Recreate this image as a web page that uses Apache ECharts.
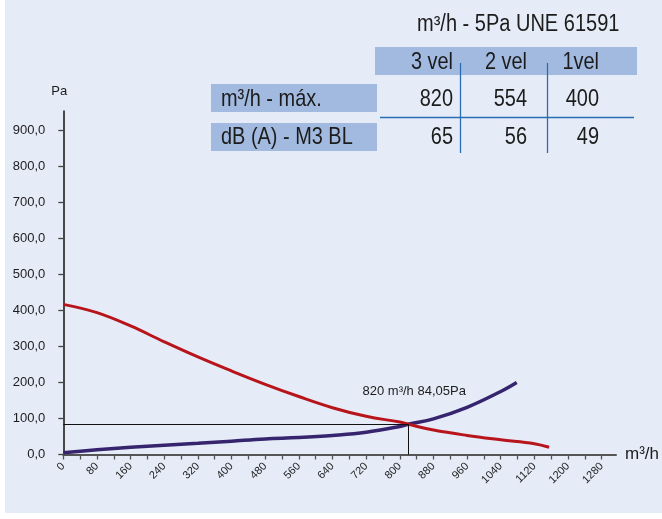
<!DOCTYPE html>
<html>
<head>
<meta charset="utf-8">
<script src="https://cdn.jsdelivr.net/npm/echarts@6/dist/echarts.min.js"></script>
<style>
  html, body { margin: 0; padding: 0; background: #ffffff; }
  #chart { width: 662px; height: 519px; }
</style>
</head>
<body>
<div id="chart"></div>
<script>
// Fan curve (pressure available) in m³/h vs Pa
const fanFlow     = [0,   80,  160, 240, 320, 400, 480, 560, 640, 720, 800, 820,   880, 960, 1040, 1120, 1155];
const fanPressure = [417, 394, 357, 313, 271, 232, 195, 161, 130, 106, 90,  84.05, 68,  53,  41,   30,   20];

// System (installation) curve
const sysFlow     = [0, 80, 160, 240, 320, 400, 480, 560, 640, 720, 800, 820,   880, 960, 1040, 1078];
const sysPressure = [5, 13, 20,  26,  31,  37,  43,  47,  53,  62,  78,  84.05, 99,  131, 175,  200];

// Working point
const workFlow = 820;
const workPressure = 84.05;

// Axis ticks and labels
const xLabelValues = [0, 80, 160, 240, 320, 400, 480, 560, 640, 720, 800, 880, 960, 1040, 1120, 1200, 1280];
const yLabelValues = [0, 100, 200, 300, 400, 500, 600, 700, 800, 900];

// Speed table
const tableTitle = 'm³/h - 5Pa UNE 61591';
const speeds = ['3 vel', '2 vel', '1vel'];
const rowNames = ['m³/h - máx.', 'dB (A) - M3 BL'];
const maxFlow = [820, 554, 400];
const noise = [65, 56, 49];

const FONT = "'Liberation Sans', Arial, sans-serif";
const INK = '#1c1c1c';
const BAND = '#a2badf';
const RULE = '#2a6db5';
const NARROW = 0.83; // horizontal squeeze for the condensed table lettering

const xTickValues = [];
for (let v = 0; v <= 1280; v += 40) xTickValues.push(v);

const pairs = (xs, ys) => xs.map((x, i) => [x, ys[i]]);

// condensed text helper for the table block
function narrowText(x, y, text, size, align, squeeze) {
  return {
    type: 'text', x: x, y: y, scaleX: squeeze || NARROW, scaleY: 1,
    style: { x: 0, y: 0, text: text, font: size + 'px ' + FONT, fill: INK, align: align || 'left', verticalAlign: 'middle' }
  };
}

// Table graphics built from the table arrays
const colRight = [453, 527, 599];
const rowMid = [99, 137];
const tableEls = [];
tableEls.push({ type: 'rect', shape: { x: 375, y: 47, width: 262, height: 28 }, style: { fill: BAND } });
tableEls.push({ type: 'rect', shape: { x: 211, y: 84, width: 166, height: 28 }, style: { fill: BAND } });
tableEls.push({ type: 'rect', shape: { x: 211, y: 123, width: 166, height: 28 }, style: { fill: BAND } });
tableEls.push(narrowText(417, 25, tableTitle, 23, 'left', 0.87));
speeds.forEach((s, i) => tableEls.push(narrowText(colRight[i], 62, s, 24, 'right')));
rowNames.forEach((s, i) => tableEls.push(narrowText(221, rowMid[i], s, 24, 'left')));
[maxFlow, noise].forEach((row, r) => row.forEach((v, i) => tableEls.push(narrowText(colRight[i], rowMid[r], String(v), 24, 'right'))));
tableEls.push({ type: 'line', shape: { x1: 460.5, y1: 63, x2: 460.5, y2: 153 }, style: { stroke: RULE, lineWidth: 1.3 } });
tableEls.push({ type: 'line', shape: { x1: 547.5, y1: 63, x2: 547.5, y2: 153 }, style: { stroke: RULE, lineWidth: 1.3 } });
tableEls.push({ type: 'line', shape: { x1: 380, y1: 117.5, x2: 634, y2: 117.5 }, style: { stroke: RULE, lineWidth: 1.3 } });

const chart = echarts.init(document.getElementById('chart'), null, { renderer: 'canvas' });

chart.setOption({
  backgroundColor: '#e5ecf7',
  animation: false,
  textStyle: { fontFamily: FONT },
  grid: { left: 63.3, right: 43, top: 111, bottom: 64.5, containLabel: false },
  graphic: [
    { type: 'rect', shape: { x: 0, y: 0, width: 5, height: 519 }, style: { fill: '#ffffff' } },
    { type: 'rect', shape: { x: 0, y: 513, width: 662, height: 6 }, style: { fill: '#ffffff' } },
    { type: 'group', children: tableEls }
  ],
  xAxis: {
    type: 'value',
    min: 0,
    max: 1314,
    name: 'm³/h',
    nameLocation: 'end',
    nameGap: 9,
    nameTextStyle: { fontSize: 17, color: INK, fontFamily: FONT, verticalAlign: 'middle' },
    axisLine: { lineStyle: { color: '#555555', width: 2 } },
    axisTick: { customValues: xTickValues, length: 5, lineStyle: { color: '#555555', width: 1.3 } },
    axisLabel: {
      customValues: xLabelValues, rotate: 45, fontSize: 11, color: INK, margin: 10, fontFamily: FONT,
      formatter: v => String(v)
    },
    splitLine: { show: false }
  },
  yAxis: {
    type: 'value',
    min: 0,
    max: 954,
    name: 'Pa',
    nameLocation: 'end',
    nameGap: 13,
    nameTextStyle: { fontSize: 13, color: INK, fontFamily: FONT, padding: [0, 8, 0, 0] },
    axisLine: { lineStyle: { color: '#111111', width: 1.5 } },
    axisTick: { customValues: yLabelValues, length: 5, lineStyle: { color: '#444444', width: 1.3 } },
    axisLabel: {
      customValues: yLabelValues,
      fontSize: 13, color: INK, margin: 18, fontFamily: FONT,
      formatter: v => v.toFixed(1).replace('.', ',')
    },
    splitLine: { show: false }
  },
  series: [
    {
      name: 'ventilador',
      type: 'line',
      data: pairs(fanFlow, fanPressure),
      smooth: 0.4,
      showSymbol: false,
      lineStyle: { color: '#b8141c', width: 3 },
      z: 3
    },
    {
      name: 'instalación',
      type: 'line',
      data: pairs(sysFlow, sysPressure),
      smooth: 0.4,
      showSymbol: false,
      lineStyle: { color: '#36256e', width: 3.5 },
      z: 2,
      markLine: {
        silent: true,
        symbol: 'none',
        lineStyle: { color: '#111111', width: 1, type: 'solid' },
        label: { show: false },
        data: [
          [{ coord: [0, workPressure] }, { coord: [workFlow, workPressure] }],
          [{ coord: [workFlow, 0] }, { coord: [workFlow, workPressure] }]
        ]
      },
      markPoint: {
        silent: true,
        symbol: 'circle',
        symbolSize: 0,
        data: [{ coord: [workFlow, workPressure] }],
        label: {
          show: true,
          position: 'inside',
          offset: [6, -33],
          fontSize: 13,
          color: INK,
          fontFamily: FONT,
          formatter: () => workFlow + ' m³/h ' + workPressure.toFixed(2).replace('.', ',') + 'Pa'
        }
      }
    }
  ]
});
</script>
</body>
</html>
